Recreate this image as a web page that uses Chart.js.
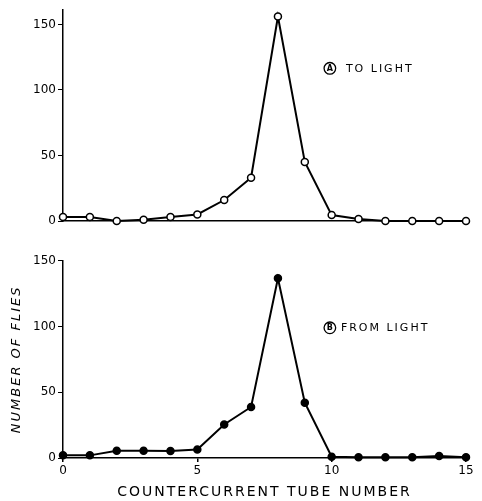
<!DOCTYPE html>
<html>
<head>
<meta charset="utf-8">
<script src="https://cdn.jsdelivr.net/npm/chart.js@4.4.1/dist/chart.umd.min.js"></script>
<style>
  html, body { margin: 0; padding: 0; background: #fff; }
  #wrap { position: relative; width: 482px; height: 501px; background: #fff; }
  canvas { position: absolute; left: 0; }
  #cTop { top: 0; }
  #cBot { top: 240px; }
</style>
</head>
<body>
<div id="wrap">
  <canvas id="cTop" width="482" height="240"></canvas>
  <canvas id="cBot" width="482" height="261"></canvas>
</div>
<script>
// ---- data ----
const tubes = [0, 1, 2, 3, 4, 5, 6, 7, 8, 9, 10, 11, 12, 13, 14, 15];
const toLight = [3, 3, 0, 1, 3, 5, 16, 33, 156, 45, 4.5, 1.5, 0, 0, 0, 0];
const fromLight = [2, 2, 5.5, 5.5, 5.3, 6.5, 25.5, 38.8, 136.7, 42, 1, 0.5, 0.5, 0.5, 1.5, 0.5];
const yTicksStep = 50;
const xTicksStep = 5;
const labelA = { letter: 'A', text: 'TO LIGHT' };
const labelB = { letter: 'B', text: 'FROM LIGHT' };
const xTitle = 'COUNTERCURRENT TUBE NUMBER';
const yTitle = 'NUMBER OF FLIES';

const FONT = "'DejaVu Sans', sans-serif";

// wider lettering for the axis titles (drawn before datasets), normal for tick labels
const spacing = {
  id: 'spacing',
  beforeDraw(chart) { chart.ctx.letterSpacing = '2px'; },
  beforeDatasetsDraw(chart) { chart.ctx.letterSpacing = '0px'; }
};

const panelLabel = {
  id: 'panelLabel',
  afterDraw(chart, args, opts) {
    const ctx = chart.ctx;
    const px = chart.scales.x.getPixelForValue(opts.x);
    const py = chart.scales.y.getPixelForValue(opts.y);
    ctx.save();
    ctx.strokeStyle = '#000';
    ctx.fillStyle = '#000';
    ctx.lineWidth = 1.3;
    ctx.beginPath();
    ctx.arc(px + 6, py, 5.8, 0, Math.PI * 2);
    ctx.stroke();
    ctx.font = "bold 8px " + FONT;
    ctx.textAlign = 'center';
    ctx.textBaseline = 'middle';
    ctx.letterSpacing = '0px';
    ctx.fillText(opts.letter, px + 6, py + 0.5);
    ctx.font = "11px " + FONT;
    ctx.textAlign = 'left';
    ctx.letterSpacing = '2px';
    ctx.fillText(opts.text, px + (opts.gap || 22), py + 0.5);
    ctx.restore();
  }
};

function pts(vals) { return tubes.map((t, i) => ({ x: t, y: vals[i] })); }

function makeChart(el, cfg) {
  return new Chart(el, {
    type: 'line',
    data: {
      datasets: [{
        data: pts(cfg.values),
        borderColor: '#000',
        borderWidth: 2,
        pointRadius: 3.5,
        pointBorderWidth: 1.5,
        pointBorderColor: '#000',
        pointBackgroundColor: cfg.filled ? '#000' : '#fff',
        tension: 0,
        clip: false
      }]
    },
    plugins: [spacing, panelLabel],
    options: {
      responsive: false,
      animation: false,
      devicePixelRatio: 1,
      layout: { padding: { top: cfg.padTop, right: 16, left: 0, bottom: 0 } },
      plugins: {
        legend: { display: false },
        tooltip: { enabled: false },
        panelLabel: { x: 9.71, y: cfg.labelY, letter: cfg.label.letter, text: cfg.label.text, gap: cfg.gap }
      },
      scales: {
        x: {
          type: 'linear',
          min: 0, max: 15,
          ticks: {
            display: cfg.showX,
            stepSize: xTicksStep,
            color: '#000',
            font: { family: FONT, size: 12 },
            padding: 2,
            z: 1
          },
          grid: { drawOnChartArea: false, drawTicks: cfg.showX, tickLength: 4, color: '#000', lineWidth: 1.5 },
          border: { display: true, color: '#000', width: 1.5 },
          title: {
            display: cfg.showX,
            text: xTitle,
            color: '#000',
            font: { family: FONT, size: 14 },
            padding: { top: 0, bottom: 0 }
          },
          afterFit: s => { s.height = cfg.xHeight; }
        },
        y: {
          min: 0, max: cfg.yMax,
          ticks: {
            stepSize: yTicksStep,
            includeBounds: false,
            color: '#000',
            font: { family: FONT, size: 12 },
            padding: 2,
            z: 1
          },
          grid: { drawOnChartArea: false, drawTicks: true, tickLength: 5, color: '#000', lineWidth: 1 },
          border: { display: true, color: '#000', width: 1.5 },
          title: {
            display: cfg.showYTitle,
            text: yTitle,
            color: '#000',
            font: { family: FONT, size: 13, style: 'italic' },
            padding: { top: 9, bottom: 0 }
          },
          afterFit: s => { s.width = 63; }
        }
      }
    }
  });
}

makeChart(document.getElementById('cTop'), {
  values: toLight, filled: false, yMax: 161, padTop: 10, xHeight: 19,
  showX: false, showYTitle: false, label: labelA, labelY: 116.5, gap: 22
});
makeChart(document.getElementById('cBot'), {
  values: fromLight, filled: true, yMax: 150, padTop: 20.7, xHeight: 43,
  showX: true, showYTitle: true, label: labelB, labelY: 99, gap: 17
});
</script>
</body>
</html>
